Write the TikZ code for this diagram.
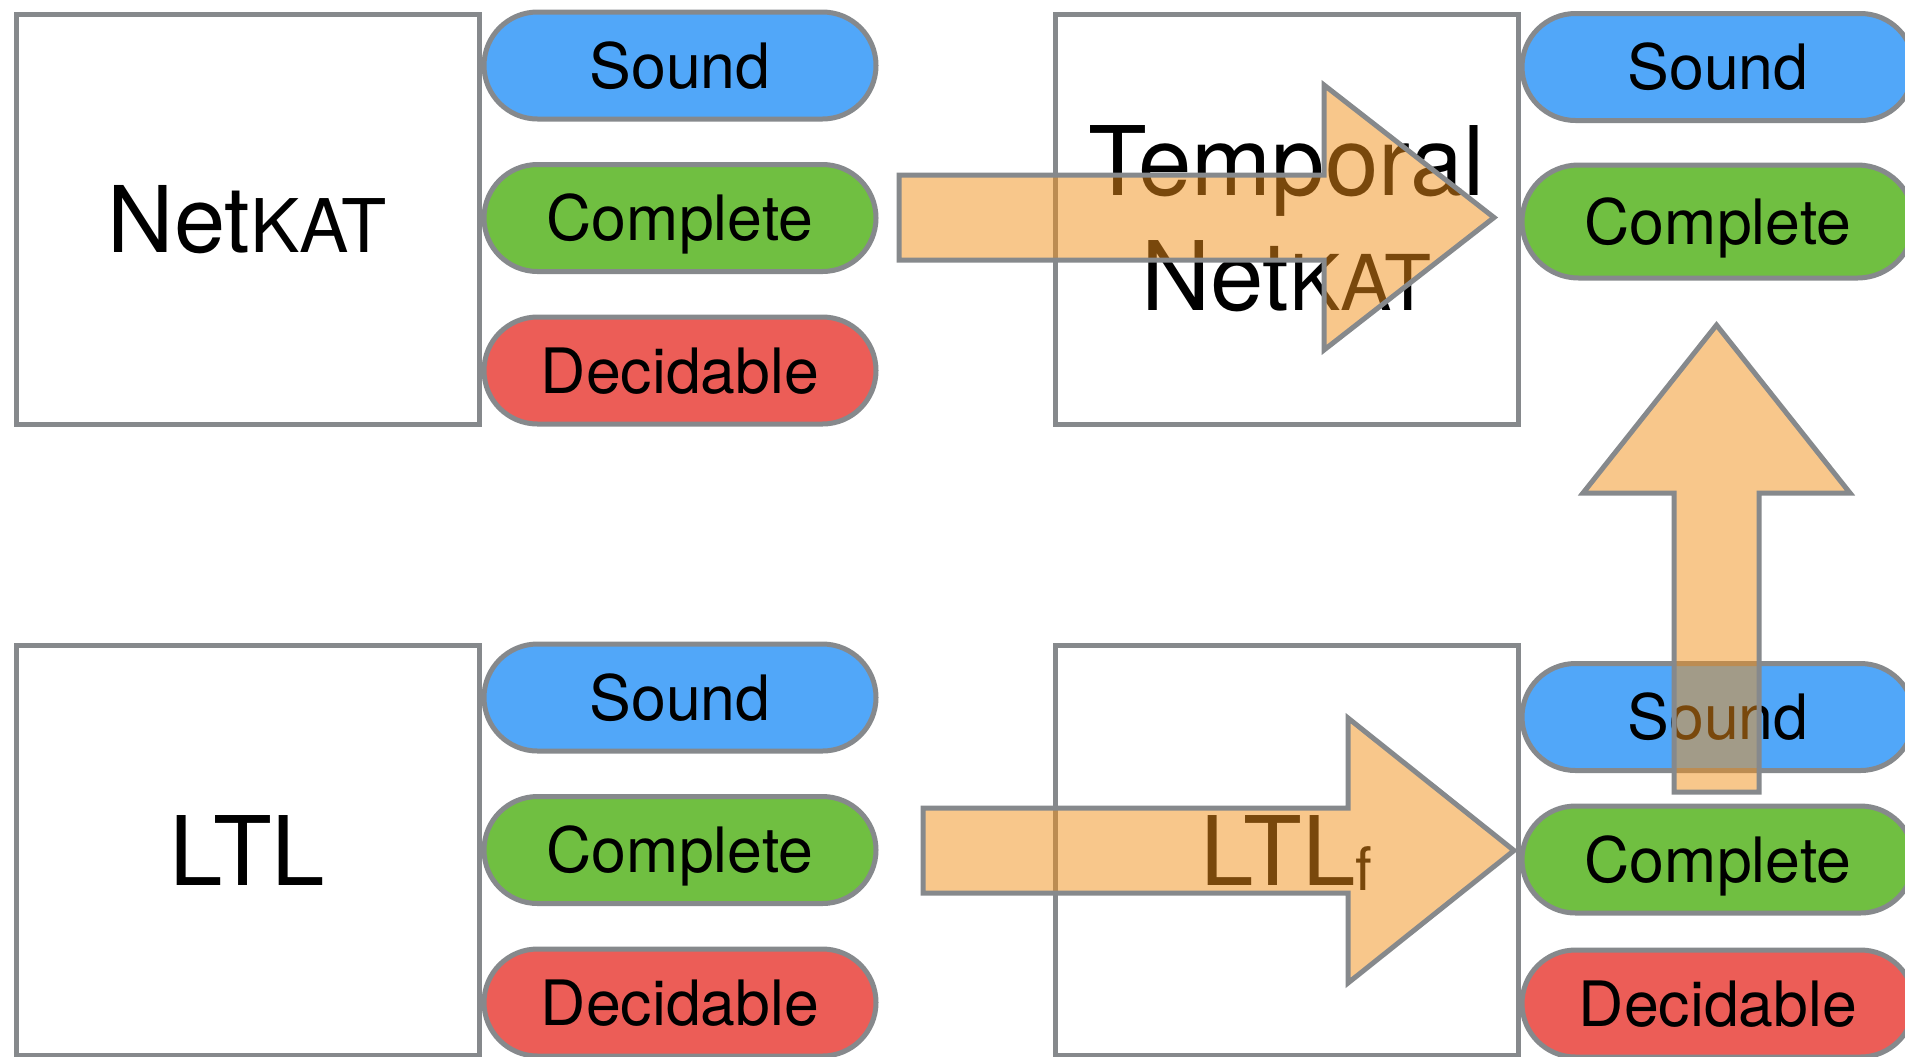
\documentclass[tikz,border=0pt]{standalone}
\usepackage{fontspec}
\setmainfont{TeX Gyre Heros}
\newfontfamily\pillfont{TeX Gyre Heros}
\newfontfamily\bigfont{TeX Gyre Heros}
\usetikzlibrary{shapes.misc}

\definecolor{edgegrey}{RGB}{134,137,140}
\definecolor{soundblue}{RGB}{81,167,249}
\definecolor{completegreen}{RGB}{112,191,65}
\definecolor{decidered}{RGB}{236,93,87}
\definecolor{arroworange}{RGB}{243,144,25}

\begin{document}
\begin{tikzpicture}[x=0.5pt,y=-0.5pt,
  logicbox/.style={draw=edgegrey, line width=2.5pt, fill=white,
    minimum width=231.5pt, minimum height=205pt, inner sep=0pt, align=center},
  pill/.style={rounded rectangle, draw=edgegrey, line width=2.5pt,
    minimum width=196pt, minimum height=53.5pt, inner sep=0pt,
    font=\pillfont\fontsize{31.3}{36}\selectfont,
    text height=22.5pt, text depth=0pt},
  sound/.style={pill, fill=soundblue},
  complete/.style={pill, fill=completegreen},
  decidable/.style={pill, fill=decidered},
  blockarrow/.style={draw=edgegrey, line width=2.5pt, fill=arroworange,
    fill opacity=0.5, line join=miter}
]
\useasboundingbox (0,0) rectangle (1905,1056);
\clip (0,0) rectangle (1905,1056);
\fill[white] (0,0) rectangle (1905,1056);

% logics
\node[logicbox, font=\bigfont\fontsize{46}{55}\selectfont, text depth=0pt]
  (netkat) at (247.5,219) {Net{\fontsize{37}{55}\selectfont KAT}};
\node[logicbox, font=\bigfont\fontsize{48}{57.5}\selectfont]
  (tnetkat) at (1286.5,219) {Temporal\\Net{\fontsize{38.5}{57.5}\selectfont KAT}};
\node[logicbox, font=\bigfont\fontsize{48}{57}\selectfont, text depth=0pt]
  (ltl) at (247.5,850) {LTL};
\node[logicbox, font=\bigfont\fontsize{48}{57}\selectfont, text depth=0pt]
  (ltlf) at (1286.5,850) {LTL\raisebox{-2.5pt}{\fontsize{30}{36}\selectfont f}};

% properties of NetKAT
\node[sound]     (netkat-s) at (680,65.5)  {Sound};
\node[complete]  (netkat-c) at (680,218)   {Complete};
\node[decidable] (netkat-d) at (680,370.5) {Decidable};

% properties of LTL
\node[sound]     (ltl-s) at (680,697.5)  {Sound};
\node[complete]  (ltl-c) at (680,850)    {Complete};
\node[decidable] (ltl-d) at (680,1002.5) {Decidable};

% properties of Temporal NetKAT
\node[sound]     (tnetkat-s) at (1718,67) {Sound};
\node[complete, minimum height=56.5pt] (tnetkat-c) at (1718,221.5) {Complete};

% properties of LTLf
\node[sound]     (ltlf-s) at (1718,717)    {Sound};
\node[complete]  (ltlf-c) at (1718,859.5)  {Complete};
\node[decidable] (ltlf-d) at (1718,1003.5) {Decidable};

% block arrows
\path[blockarrow] (899,175) -- (1324,175) -- (1324,85) -- (1494,217.5)
  -- (1324,350) -- (1324,260) -- (899,260) -- cycle;
\path[blockarrow] (923,808) -- (1348,808) -- (1348,718) -- (1514,850.5)
  -- (1348,983) -- (1348,893) -- (923,893) -- cycle;
\path[blockarrow] (1674,792) -- (1674,493) -- (1583,493) -- (1716.5,325)
  -- (1850,493) -- (1759,493) -- (1759,792) -- cycle;
\end{tikzpicture}
\end{document}
